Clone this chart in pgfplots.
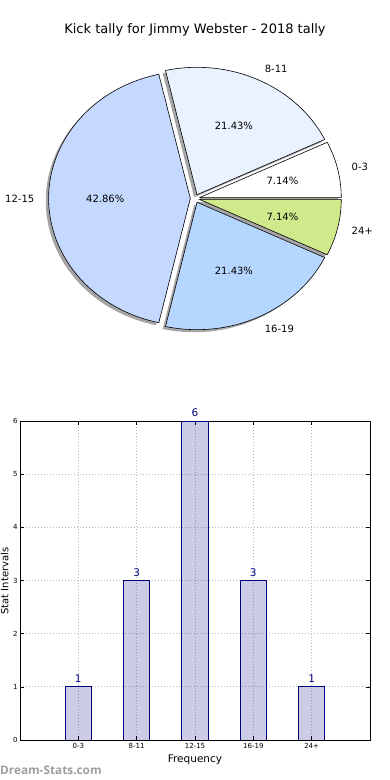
\documentclass[border=0pt]{standalone}
\usepackage{pgfplots}
\pgfplotsset{compat=1.18}
\usepackage{pgfplotstable}
\usepackage{fontspec}
\setmainfont{DejaVu Sans}
\newfontfamily\wmfont{Open Sans}
\pgfplotsset{/pgf/number format/assume math mode=true}

\definecolor{cA}{RGB}{255,255,255}
\definecolor{cB}{RGB}{234,242,255}
\definecolor{cC}{RGB}{197,217,255}
\definecolor{cD}{RGB}{181,214,255}
\definecolor{cE}{RGB}{207,234,139}
\definecolor{barnavy}{RGB}{0,0,128}

\pgfplotstableread{
label value
0-3 1
8-11 3
12-15 6
16-19 3
24+ 1
}\piedata

\def\RX{141.7pt}
\def\RY{127.4pt}
\def\EXP{0.033}

\newcommand\pieshadow[2]{%
  \pgfmathsetmacro\m{(#1+#2)/2}%
  \pgfmathsetmacro\ox{\EXP*cos(\m)-0.02}%
  \pgfmathsetmacro\oy{\EXP*sin(\m)-0.02}%
  \pgfmathsetmacro\px{\ox+cos(#1)}%
  \pgfmathsetmacro\py{\oy+sin(#1)}%
  \fill[black!70,opacity=0.5] (axis cs:\ox,\oy) -- (axis cs:\px,\py)
     arc[start angle=#1,end angle=#2,x radius=\RX,y radius=\RY] -- cycle;}

\newcommand\piewedge[3]{%
  \pgfmathsetmacro\m{(#1+#2)/2}%
  \pgfmathsetmacro\ox{\EXP*cos(\m)}%
  \pgfmathsetmacro\oy{\EXP*sin(\m)}%
  \pgfmathsetmacro\px{\ox+cos(#1)}%
  \pgfmathsetmacro\py{\oy+sin(#1)}%
  \filldraw[fill=#3,draw=black,line width=0.6pt,line join=round] (axis cs:\ox,\oy) -- (axis cs:\px,\py)
     arc[start angle=#1,end angle=#2,x radius=\RX,y radius=\RY] -- cycle;}

\newcommand\pielabel[5]{% start end label value anchor
  \pgfmathsetmacro\m{(#1+#2)/2}%
  \pgfmathsetmacro\lx{(\EXP+1.1)*cos(\m)}%
  \pgfmathsetmacro\ly{(\EXP+1.1)*sin(\m)}%
  \pgfmathsetmacro\tx{(\EXP+0.6)*cos(\m)}%
  \pgfmathsetmacro\ty{(\EXP+0.6)*sin(\m)}%
  \pgfmathsetmacro\pc{100*#4/\tot}%
  \node[anchor=#5,font=\fontsize{10}{12}\selectfont,inner sep=0pt] at (axis cs:\lx,\ly) {#3};
  \node[font=\fontsize{10}{12}\selectfont,inner sep=0pt] at (axis cs:\tx,\ty)
     {\pgfmathprintnumber[fixed,precision=2,fixed zerofill]{\pc}\%};}

\begin{document}
\begin{tikzpicture}
\pgfplotstablegetelem{0}{value}\of\piedata \edef\vA{\pgfplotsretval}
\pgfplotstablegetelem{1}{value}\of\piedata \edef\vB{\pgfplotsretval}
\pgfplotstablegetelem{2}{value}\of\piedata \edef\vC{\pgfplotsretval}
\pgfplotstablegetelem{3}{value}\of\piedata \edef\vD{\pgfplotsretval}
\pgfplotstablegetelem{4}{value}\of\piedata \edef\vE{\pgfplotsretval}
\pgfmathsetmacro\tot{\vA+\vB+\vC+\vD+\vE}
\pgfmathsetmacro\aA{0}
\pgfmathsetmacro\aB{\aA+360*\vA/\tot}
\pgfmathsetmacro\aC{\aB+360*\vB/\tot}
\pgfmathsetmacro\aD{\aC+360*\vC/\tot}
\pgfmathsetmacro\aE{\aD+360*\vD/\tot}
\pgfmathsetmacro\aF{\aE+360*\vE/\tot}
\path[use as bounding box] (0,0) rectangle (390pt,780pt);

\node[font=\fontsize{13}{15}\selectfont] at (195pt,750pt) {Kick tally for Jimmy Webster - 2018 tally};

\begin{axis}[at={(195pt,581.5pt)}, anchor=origin, x=\RX, y=\RY,
  xmin=-1.3,xmax=1.3,ymin=-1.3,ymax=1.3, hide axis, clip=false]
\pgfplotsextra{%
  \pieshadow{\aA}{\aB}\pieshadow{\aB}{\aC}\pieshadow{\aC}{\aD}\pieshadow{\aD}{\aE}\pieshadow{\aE}{\aF}%
  \piewedge{\aA}{\aB}{cA}\piewedge{\aB}{\aC}{cB}\piewedge{\aC}{\aD}{cC}\piewedge{\aD}{\aE}{cD}\piewedge{\aE}{\aF}{cE}%
  \pielabel{\aA}{\aB}{0-3}{\vA}{west}%
  \pielabel{\aB}{\aC}{8-11}{\vB}{west}%
  \pielabel{\aC}{\aD}{12-15}{\vC}{east}%
  \pielabel{\aD}{\aE}{16-19}{\vD}{west}%
  \pielabel{\aE}{\aF}{24+}{\vE}{west}%
}
\end{axis}

\begin{axis}[at={(20pt,40pt)}, anchor=south west, scale only axis,
  width=350pt, height=319pt,
  xmin=-1, xmax=5, ymin=0, ymax=6,
  xtick={0,...,4}, xticklabels={0-3,8-11,12-15,16-19,24+},
  ytick={0,...,6},
  tick align=inside, major tick length=4pt,
  tick style={black,line width=0.6pt},
  axis line style={black,line width=0.8pt},
  grid=major, major grid style={gray!55,dash pattern=on 1pt off 2pt,line width=0.7pt},
  ticklabel style={font=\fontsize{7}{8}\selectfont},
  yticklabel style={xshift=1pt},
  xlabel={Frequency}, xlabel style={font=\fontsize{10.5}{12}\selectfont,yshift=1pt},
]
\addplot[ybar, bar width=0.45, fill=barnavy, fill opacity=0.2, draw=barnavy, line width=0.8pt,
  nodes near coords, nodes near coords style={text=barnavy,text opacity=1,font=\fontsize{10.5}{12}\selectfont,inner sep=3.5pt}]
  table[x expr=\coordindex, y=value]{\piedata};
\end{axis}

\node[rotate=90,font=\fontsize{10}{12}\selectfont,inner sep=0pt,anchor=north] at (0.5pt,199pt) {Stat Intervals};
\node[font=\wmfont\bfseries\fontsize{11.8}{14}\selectfont,text=black!38,anchor=west,inner sep=0pt] at (0pt,10pt) {Dream-Stats.com};
\end{tikzpicture}
\end{document}
